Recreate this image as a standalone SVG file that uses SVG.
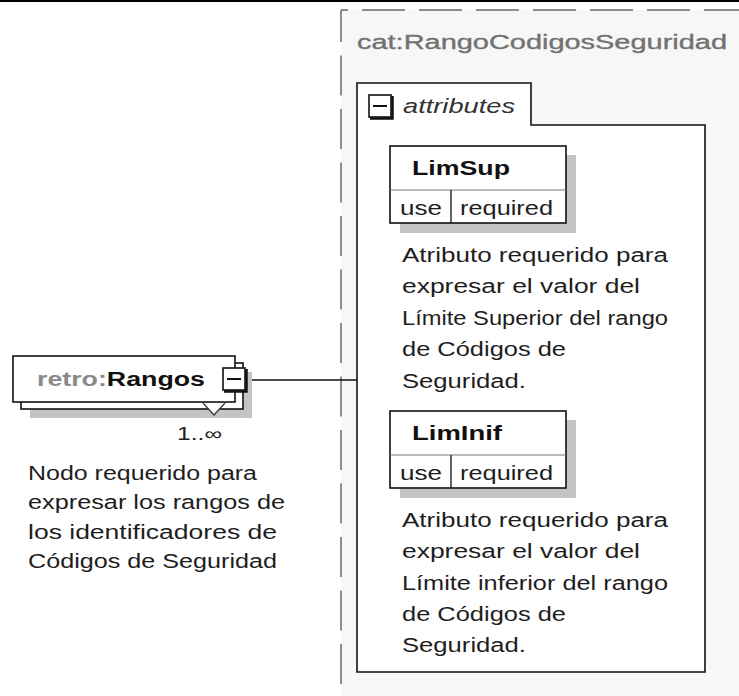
<svg xmlns="http://www.w3.org/2000/svg" width="739" height="696" viewBox="0 0 739 696">
<defs>
<style>
text{font-family:"Liberation Sans",Arial,sans-serif;}
.desc{font-size:20px;fill:#1e1e1e;}
.box{fill:#fff;stroke:#111;stroke-width:1.6;}
.shadow{fill:#c4c4c4;}
.dash{stroke:#8c8c8c;stroke-width:2;fill:none;}
.name{font-size:20px;font-weight:bold;fill:#111;}
.small{font-size:20px;fill:#1e1e1e;}
</style>
</defs>
<rect x="0" y="0" width="739" height="696" fill="#fff"/>
<rect x="0" y="0" width="739" height="2" fill="#000"/>

<g id="group-RangoCodigosSeguridad">
<rect x="341" y="10" width="398" height="686" fill="#f7f7f7"/>
<line class="dash" x1="341" y1="10" x2="341" y2="696" stroke-dasharray="40 13.5" stroke-dashoffset="8"/>
<line class="dash" x1="341" y1="10" x2="739" y2="10" stroke-dasharray="43 14" stroke-dashoffset="36"/>
<text x="357" y="49" font-size="20" fill="#727272" stroke="#727272" stroke-width="0.35" textLength="370" lengthAdjust="spacingAndGlyphs">cat:RangoCodigosSeguridad</text>
</g>

<g id="attributes">
<path d="M357,83 H531 V125 H705 V672 H357 Z" fill="#fff" stroke="#111" stroke-width="1.6"/>
<rect x="369" y="95" width="22" height="22" fill="#fff" stroke="#111" stroke-width="1.6"/>
<path d="M370,118.5 H392.5 V96" fill="none" stroke="#111" stroke-width="2.5"/>
<line x1="373" y1="106" x2="387" y2="106" stroke="#111" stroke-width="2"/>
<text x="403" y="113" font-size="20" font-style="italic" fill="#333" textLength="112" lengthAdjust="spacingAndGlyphs">attributes</text>
</g>

<g id="attr-LimSup">
<rect class="shadow" x="400" y="155" width="176" height="78"/>
<rect class="box" x="390" y="146" width="176" height="77"/>
<line x1="390" y1="190" x2="566" y2="190" stroke="#777" stroke-width="1.2"/>
<line x1="451" y1="190" x2="451" y2="223" stroke="#222" stroke-width="1.4"/>
<text class="name" x="412" y="175" textLength="98" lengthAdjust="spacingAndGlyphs">LimSup</text>
<text class="small" x="400" y="215" textLength="42" lengthAdjust="spacingAndGlyphs">use</text>
<text class="small" x="460" y="215" textLength="93" lengthAdjust="spacingAndGlyphs">required</text>
<text class="desc" x="402" y="262" textLength="266" lengthAdjust="spacingAndGlyphs">Atributo requerido para</text>
<text class="desc" x="402" y="293" textLength="238" lengthAdjust="spacingAndGlyphs">expresar el valor del</text>
<text class="desc" x="402" y="325" textLength="266" lengthAdjust="spacingAndGlyphs">Límite Superior del rango</text>
<text class="desc" x="402" y="356" textLength="164" lengthAdjust="spacingAndGlyphs">de Códigos de</text>
<text class="desc" x="402" y="388" textLength="124" lengthAdjust="spacingAndGlyphs">Seguridad.</text>
</g>

<g id="attr-LimInif">
<rect class="shadow" x="400" y="420" width="176" height="78"/>
<rect class="box" x="390" y="411" width="176" height="77"/>
<line x1="390" y1="455" x2="566" y2="455" stroke="#777" stroke-width="1.2"/>
<line x1="451" y1="455" x2="451" y2="488" stroke="#222" stroke-width="1.4"/>
<text class="name" x="412" y="440" textLength="90" lengthAdjust="spacingAndGlyphs">LimInif</text>
<text class="small" x="400" y="480" textLength="42" lengthAdjust="spacingAndGlyphs">use</text>
<text class="small" x="460" y="480" textLength="93" lengthAdjust="spacingAndGlyphs">required</text>
<text class="desc" x="402" y="527" textLength="266" lengthAdjust="spacingAndGlyphs">Atributo requerido para</text>
<text class="desc" x="402" y="558" textLength="238" lengthAdjust="spacingAndGlyphs">expresar el valor del</text>
<text class="desc" x="402" y="590" textLength="266" lengthAdjust="spacingAndGlyphs">Límite inferior del rango</text>
<text class="desc" x="402" y="621" textLength="164" lengthAdjust="spacingAndGlyphs">de Códigos de</text>
<text class="desc" x="402" y="652" textLength="124" lengthAdjust="spacingAndGlyphs">Seguridad.</text>
</g>

<g id="connectors">
<line x1="248" y1="380" x2="357" y2="380" stroke="#111" stroke-width="1.6"/>
</g>

<g id="node-Rangos">
<rect class="shadow" x="30" y="372" width="222" height="46"/>
<rect class="box" x="21" y="363" width="222" height="46"/>
<rect class="box" x="13" y="356" width="222" height="46"/>
<polygon points="203,403 214,415 225,403" fill="#fff"/>
<polyline points="203,403 214,415 225,403" fill="none" stroke="#333" stroke-width="1.2"/>
<text class="name" x="37" y="386" textLength="168" lengthAdjust="spacingAndGlyphs"><tspan fill="#8a8a8a">retro:</tspan>Rangos</text>
<rect x="223" y="368" width="22" height="22" fill="#fff" stroke="#111" stroke-width="1.6"/>
<path d="M224,391.5 H246.5 V369" fill="none" stroke="#111" stroke-width="2.5"/>
<line x1="227" y1="379" x2="241" y2="379" stroke="#111" stroke-width="2"/>
<text x="177" y="440" font-size="18" fill="#1e1e1e" textLength="45" lengthAdjust="spacingAndGlyphs">1..∞</text>
<text class="desc" x="28" y="480" textLength="229" lengthAdjust="spacingAndGlyphs">Nodo requerido para</text>
<text class="desc" x="28" y="509" textLength="257" lengthAdjust="spacingAndGlyphs">expresar los rangos de</text>
<text class="desc" x="28" y="539" textLength="249" lengthAdjust="spacingAndGlyphs">los identificadores de</text>
<text class="desc" x="28" y="568" textLength="249" lengthAdjust="spacingAndGlyphs">Códigos de Seguridad</text>
</g>
</svg>
